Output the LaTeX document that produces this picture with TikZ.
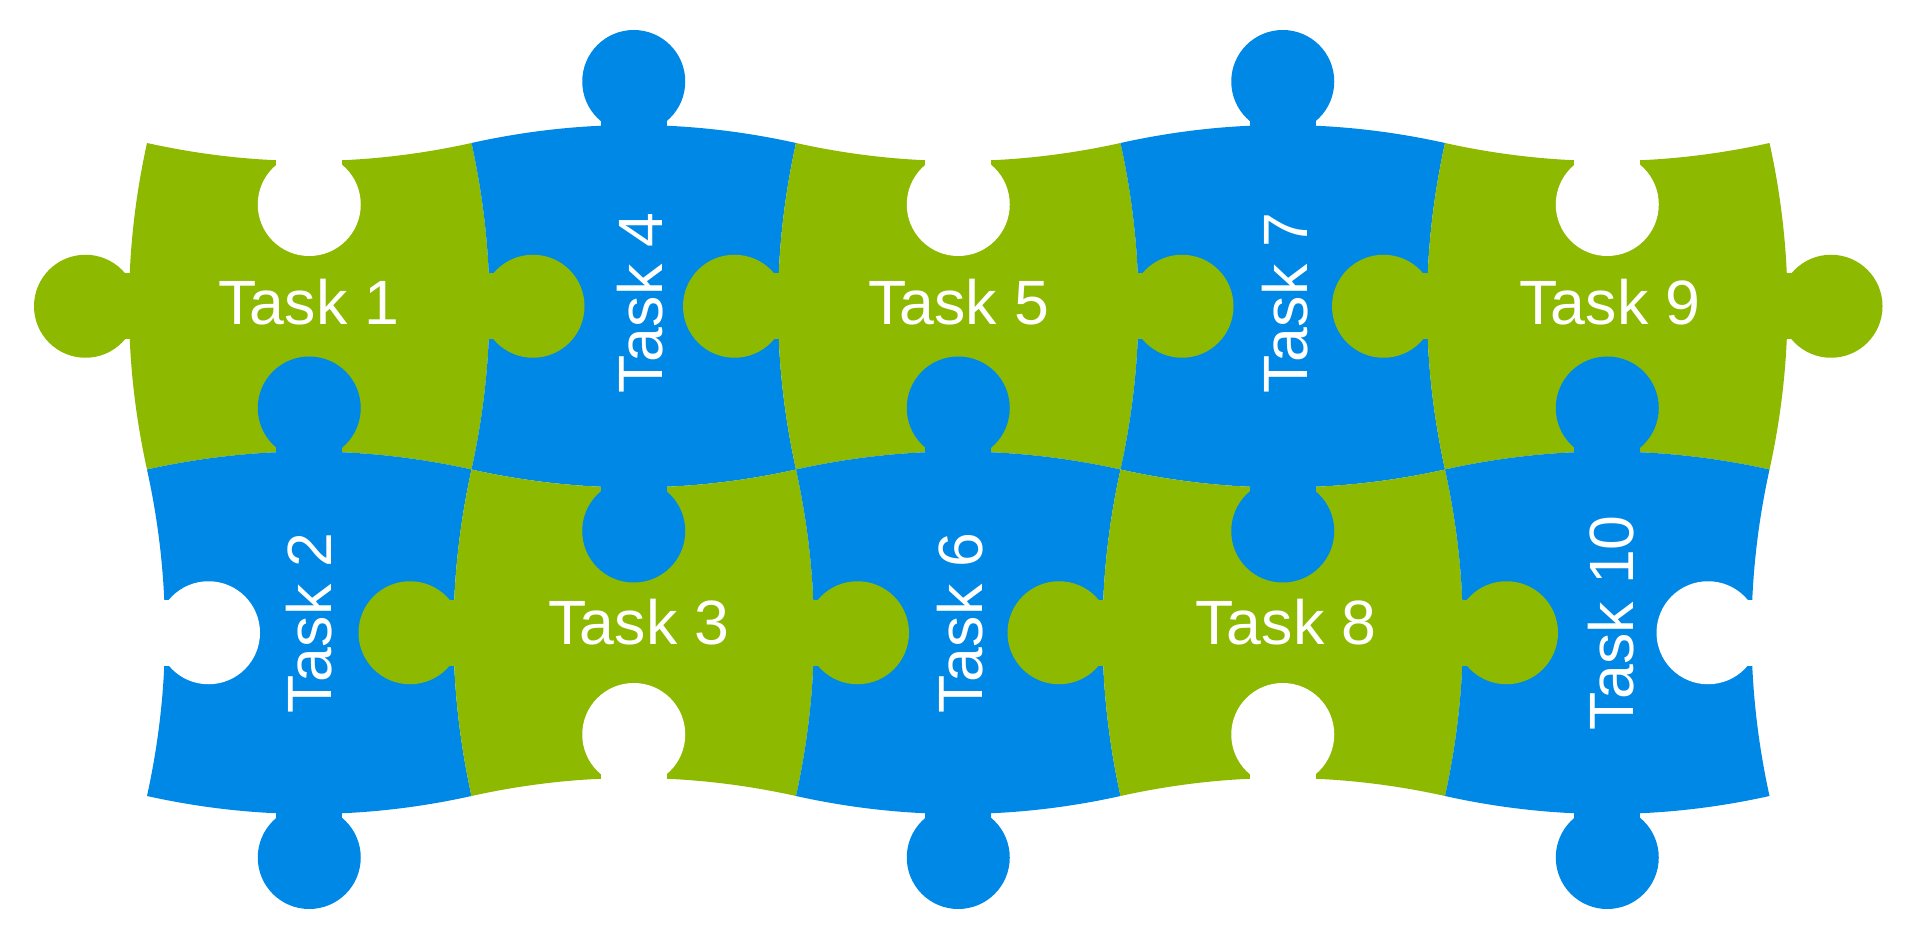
\documentclass[tikz,border=0pt]{standalone}
\usepackage{fontspec}
\setmainfont{Liberation Sans}
\definecolor{pgreen}{RGB}{141,186,0}
\definecolor{pblue}{RGB}{0,136,230}
% green body: vertical edges bulge out, horizontal edges bulge in
\newcommand\gbody[4]{\fill[pgreen] (#1,#2) .. controls +(108,24) and +(-108,24) .. (#3,#2)
  .. controls +(24,109) and +(24,-109) .. (#3,#4)
  .. controls +(-108,-24) and +(108,-24) .. (#1,#4)
  .. controls +(-24,-109) and +(-24,109) .. (#1,#2) -- cycle;}
% blue body: vertical edges bulge in, horizontal edges bulge out
\newcommand\bbody[4]{\fill[pblue] (#1,#2) .. controls +(108,-24) and +(-108,-24) .. (#3,#2)
  .. controls +(-24,109) and +(-24,-109) .. (#3,#4)
  .. controls +(-108,24) and +(108,24) .. (#1,#4)
  .. controls +(24,-109) and +(24,109) .. (#1,#2) -- cycle;}
% knob (or hole) on a horizontal edge: colour, chord middle x, y, direction (+1 down, -1 up)
\newcommand\knobV[4]{\fill[#1] ({#2-33},#3) rectangle ({#2+33},{#3+22*(#4)});
  \fill[#1] (#2,{#3+61.5*(#4)}) circle[radius=25.75pt];}
% knob (or hole) on a vertical edge: colour, x, chord middle y, direction (+1 right, -1 left)
\newcommand\knobH[4]{\fill[#1] (#2,{#3-33}) rectangle ({#2+22*(#4)},{#3+33});
  \fill[#1] ({#2+61.5*(#4)},#3) circle[radius=25.75pt];}
\begin{document}
\begin{tikzpicture}[x=0.5pt,y=-0.5pt,
  tasklabel/.style={text=white,font=\fontsize{31.3}{38}\selectfont,inner sep=0pt}]
\useasboundingbox (0,0) rectangle (1920,940);
\fill[white] (0,0) rectangle (1920,940);
% bodies
\gbody{147}{143}{471.5}{469.5}
\bbody{471.5}{143}{796}{469.5}
\gbody{796}{143}{1120.5}{469.5}
\bbody{1120.5}{143}{1445}{469.5}
\gbody{1445}{143}{1769.5}{469.5}
\bbody{147}{469.5}{471.5}{796}
\gbody{471.5}{469.5}{796}{796}
\bbody{796}{469.5}{1120.5}{796}
\gbody{1120.5}{469.5}{1445}{796}
\bbody{1445}{469.5}{1769.5}{796}
% top row knobs and holes
\knobH{pgreen}{147}{306.25}{-1}
\knobV{white}{309.25}{143}{1}
\knobH{pgreen}{471.5}{306.25}{1}
\knobV{pblue}{633.75}{143}{-1}
\knobV{white}{958.25}{143}{1}
\knobH{pgreen}{796}{306.25}{-1}
\knobH{pgreen}{1120.5}{306.25}{1}
\knobV{pblue}{1282.75}{143}{-1}
\knobV{white}{1607.25}{143}{1}
\knobH{pgreen}{1445}{306.25}{-1}
\knobH{pgreen}{1769.5}{306.25}{1}
% middle line knobs
\knobV{pblue}{309.25}{469.5}{-1}
\knobV{pblue}{633.75}{469.5}{1}
\knobV{pblue}{958.25}{469.5}{-1}
\knobV{pblue}{1282.75}{469.5}{1}
\knobV{pblue}{1607.25}{469.5}{-1}
% bottom row knobs and holes
\knobH{white}{147}{632.75}{1}
\knobV{pblue}{309.25}{796}{1}
\knobH{pgreen}{471.5}{632.75}{-1}
\knobH{pgreen}{796}{632.75}{1}
\knobV{white}{633.75}{796}{-1}
\knobV{pblue}{958.25}{796}{1}
\knobH{pgreen}{1120.5}{632.75}{-1}
\knobH{pgreen}{1445}{632.75}{1}
\knobV{white}{1282.75}{796}{-1}
\knobV{pblue}{1607.25}{796}{1}
\knobH{white}{1769.5}{632.75}{-1}
% labels (upright coordinate system, so rotated text is not mirrored)
\begin{scope}[y=0.5pt]
\node[tasklabel] (t1) at (309,-302) {Task 1};
\node[tasklabel,rotate=90] (t4) at (640,-303) {Task 4};
\node[tasklabel] (t5) at (958.5,-302) {Task 5};
\node[tasklabel,rotate=90] (t7) at (1285,-303) {Task 7};
\node[tasklabel] (t9) at (1610,-302) {Task 9};
\node[tasklabel,rotate=90] (t2) at (309,-623) {Task 2};
\node[tasklabel] (t3) at (639,-622) {Task 3};
\node[tasklabel,rotate=90] (t6) at (960,-623) {Task 6};
\node[tasklabel] (t8) at (1286,-622) {Task 8};
\node[tasklabel,rotate=90] (t10) at (1611,-623) {Task 10};
\end{scope}
\end{tikzpicture}
\end{document}
